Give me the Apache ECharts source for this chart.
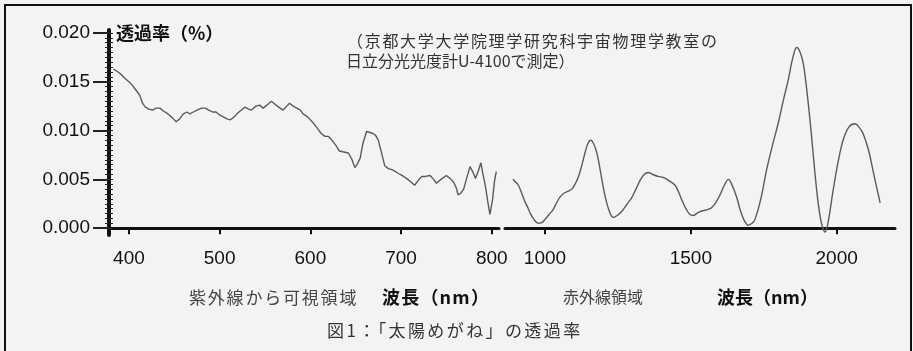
<!DOCTYPE html>
<html><head><meta charset="utf-8">
<script src="https://cdn.jsdelivr.net/npm/echarts@6/dist/echarts.min.js"></script>
<style>
html,body{margin:0;padding:0;background:#f3f3f1;}
#wrap{position:relative;width:913px;height:351px;overflow:hidden;}
#chart{position:absolute;left:0;top:0;width:913px;height:351px;}
#frame{position:absolute;left:4px;top:4px;width:904px;height:360px;border:2px solid #111;border-bottom:none;pointer-events:none;}
.t{position:absolute;white-space:nowrap;font-family:"Noto Sans CJK JP",sans-serif;line-height:1;pointer-events:none;}
</style></head>
<body><div id="wrap"><div id="chart"></div><div id="frame"></div>
<div class="t" style="left:116px;top:23px;font-size:18px;font-weight:bold;color:#111;">透過率（%）</div>
<div class="t" style="left:347px;top:32px;font-size:16px;letter-spacing:1.7px;color:#333;">（京都大学大学院理学研究科宇宙物理学教室の</div>
<div class="t" style="left:346px;top:52px;font-size:16px;color:#333;">日立分光光度計U-4100で測定）</div>
<div class="t" style="left:189px;top:288px;font-size:17px;letter-spacing:1.8px;color:#444;">紫外線から可視領域</div>
<div class="t" style="left:382px;top:287px;font-size:18px;font-weight:bold;letter-spacing:1.2px;color:#111;">波長（nm）</div>
<div class="t" style="left:563px;top:288px;font-size:16px;color:#444;">赤外線領域</div>
<div class="t" style="left:717px;top:287px;font-size:18px;font-weight:bold;color:#111;">波長（nm）</div>
<div class="t" style="left:327px;top:321px;font-size:17px;letter-spacing:2.4px;color:#333;">図1：「太陽めがね」の透過率</div>
</div>
<script>
// ---- data ----
const leftWavelengths = [383,388,392,396,400,404,408,412,415,418,422,426,430,434,438,443,448,452,456,460,464,467,471,475,480,484,488,492,496,500,504,508,512,516,520,524,528,532,535,540,544,548,552,557,561,565,570,574,577,581,585,589,592,597,603,608,612,616,620,624,628,632,637,642,646,649,652,655,658,662,666,669,672,675,678,682,686,690,694,697,701,706,710,715,719,723,727,732,736,739,744,750,754,758,761,763,766,769,772,776,779,782,785,788,790,793,796,798,801,803,805];
const leftValues = [0.0163,0.0160,0.0157,0.0153,0.0150,0.0146,0.0141,0.0136,0.0128,0.0124,0.0122,0.0121,0.0123,0.0123,0.0120,0.0117,0.0113,0.0109,0.0112,0.0117,0.0119,0.0117,0.0119,0.0121,0.0123,0.0123,0.0121,0.0119,0.0119,0.0116,0.0114,0.0112,0.0111,0.0114,0.0118,0.0121,0.0124,0.0122,0.0121,0.0125,0.0126,0.0123,0.0126,0.0130,0.0127,0.0124,0.0121,0.0125,0.0128,0.0125,0.0123,0.0121,0.0117,0.0114,0.0108,0.0102,0.0097,0.0094,0.0094,0.0090,0.0085,0.0079,0.0078,0.0077,0.0070,0.0062,0.0066,0.0072,0.0087,0.0099,0.0098,0.0097,0.0095,0.0090,0.0079,0.0064,0.0061,0.0060,0.0058,0.0056,0.0054,0.0051,0.0048,0.0044,0.0049,0.0053,0.0053,0.0054,0.0050,0.0046,0.0050,0.0054,0.0051,0.0047,0.0041,0.0034,0.0036,0.0040,0.0050,0.0063,0.0058,0.0051,0.0058,0.0067,0.0057,0.0043,0.0025,0.0014,0.0030,0.0048,0.0058];
const rightWavelengths = [890,900,909,920,930,940,950,962,977,990,1000,1014,1028,1040,1052,1066,1080,1092,1103,1115,1126,1138,1149,1158,1166,1175,1183,1195,1206,1220,1234,1248,1263,1280,1297,1312,1326,1340,1354,1370,1388,1405,1423,1446,1458,1469,1483,1497,1509,1520,1532,1543,1557,1571,1585,1600,1615,1629,1643,1657,1670,1683,1697,1710,1720,1740,1760,1780,1800,1818,1834,1850,1863,1875,1886,1900,1914,1926,1937,1948,1960,1970,1988,2005,2023,2043,2063,2078,2092,2110,2126,2140,2149];
const rightValues = [0.0050,0.0047,0.0044,0.0036,0.0028,0.0022,0.0015,0.0009,0.0005,0.0006,0.0009,0.0014,0.0019,0.0026,0.0032,0.0036,0.0038,0.0040,0.0045,0.0053,0.0064,0.0078,0.0088,0.0090,0.0087,0.0080,0.0070,0.0050,0.0033,0.0018,0.0011,0.0013,0.0017,0.0024,0.0031,0.0040,0.0049,0.0055,0.0057,0.0055,0.0053,0.0052,0.0049,0.0044,0.0037,0.0029,0.0020,0.0014,0.0013,0.0015,0.0017,0.0018,0.0019,0.0021,0.0026,0.0034,0.0044,0.0050,0.0043,0.0032,0.0018,0.0008,0.0003,0.0005,0.0009,0.0030,0.0060,0.0085,0.0108,0.0132,0.0152,0.0175,0.0185,0.0180,0.0168,0.0135,0.0094,0.0055,0.0025,0.0005,-0.0004,0.0005,0.0039,0.0068,0.0091,0.0104,0.0107,0.0103,0.0096,0.0079,0.0057,0.0038,0.0026];
const yTicks = [0, 0.005, 0.010, 0.015, 0.020];
const yMinorTicks = [];
for (let i = 0; i <= 40; i++) yMinorTicks.push(+(i * 0.0005).toFixed(4));
const leftXTicks = [400, 500, 600, 700, 800];
const rightXTicks = [1000, 1500, 2000];

// ---- chart ----
const chart = echarts.init(document.getElementById('chart'), null, {renderer: 'canvas'});
const Y_MIN = -0.0007, Y_MAX = 0.0203;
const numFont = 'Liberation Sans, Arial, sans-serif';
const lineStyle = {color: '#5a5a5a', width: 1.4};

function xAxisDef(gi, min, max, ticks) {
  return {
    type: 'value', gridIndex: gi, min: min, max: max, position: 'bottom',
    axisLine: {show: true, lineStyle: {color: '#111', width: 3}},
    axisTick: {show: true, customValues: ticks, length: 6, lineStyle: {color: '#111', width: 2}},
    axisLabel: {customValues: ticks, margin: 14, fontFamily: numFont, fontSize: 19, color: '#111',
                formatter: v => String(v)},
    splitLine: {show: false}
  };
}

chart.setOption({
  backgroundColor: '#f3f3f1',
  animation: false,
  grid: [
    {left: 109, top: 30, width: 390, height: 205},
    {left: 505, top: 30, width: 390, height: 205}
  ],
  xAxis: [
    xAxisDef(0, 378, 808, leftXTicks),
    xAxisDef(1, 863, 2200, rightXTicks)
  ],
  yAxis: [
    {type: 'value', gridIndex: 0, min: Y_MIN, max: Y_MAX, position: 'left',
     axisLine: {show: true, lineStyle: {color: '#111', width: 4}},
     axisTick: {show: true, customValues: yTicks, length: 16, lineStyle: {color: '#222', width: 2}},
     axisLabel: {customValues: yTicks, margin: 19, fontFamily: numFont, fontSize: 19, color: '#111',
                 formatter: v => v.toFixed(3)},
     splitLine: {show: false}},
    {type: 'value', gridIndex: 0, min: Y_MIN, max: Y_MAX, position: 'left',
     axisLine: {show: false},
     axisTick: {show: true, customValues: yMinorTicks, length: 4, lineStyle: {color: '#222', width: 1}},
     axisLabel: {show: false}, splitLine: {show: false}},
    {type: 'value', gridIndex: 0, min: Y_MIN, max: Y_MAX, position: 'left',
     axisLine: {show: false},
     axisTick: {show: true, inside: true, customValues: yMinorTicks, length: 4, lineStyle: {color: '#222', width: 1}},
     axisLabel: {show: false}, splitLine: {show: false}},
    {type: 'value', gridIndex: 1, min: Y_MIN, max: Y_MAX, show: false, splitLine: {show: false}}
  ],
  series: [
    {type: 'line', xAxisIndex: 0, yAxisIndex: 0, showSymbol: false, symbol: 'none',
     data: leftWavelengths.map((w, i) => [w, leftValues[i]]), lineStyle: lineStyle},
    {type: 'line', xAxisIndex: 1, yAxisIndex: 3, showSymbol: false, symbol: 'none', smooth: 0.35,
     data: rightWavelengths.map((w, i) => [w, rightValues[i]]), lineStyle: lineStyle}
  ]
});
</script>
</body></html>
